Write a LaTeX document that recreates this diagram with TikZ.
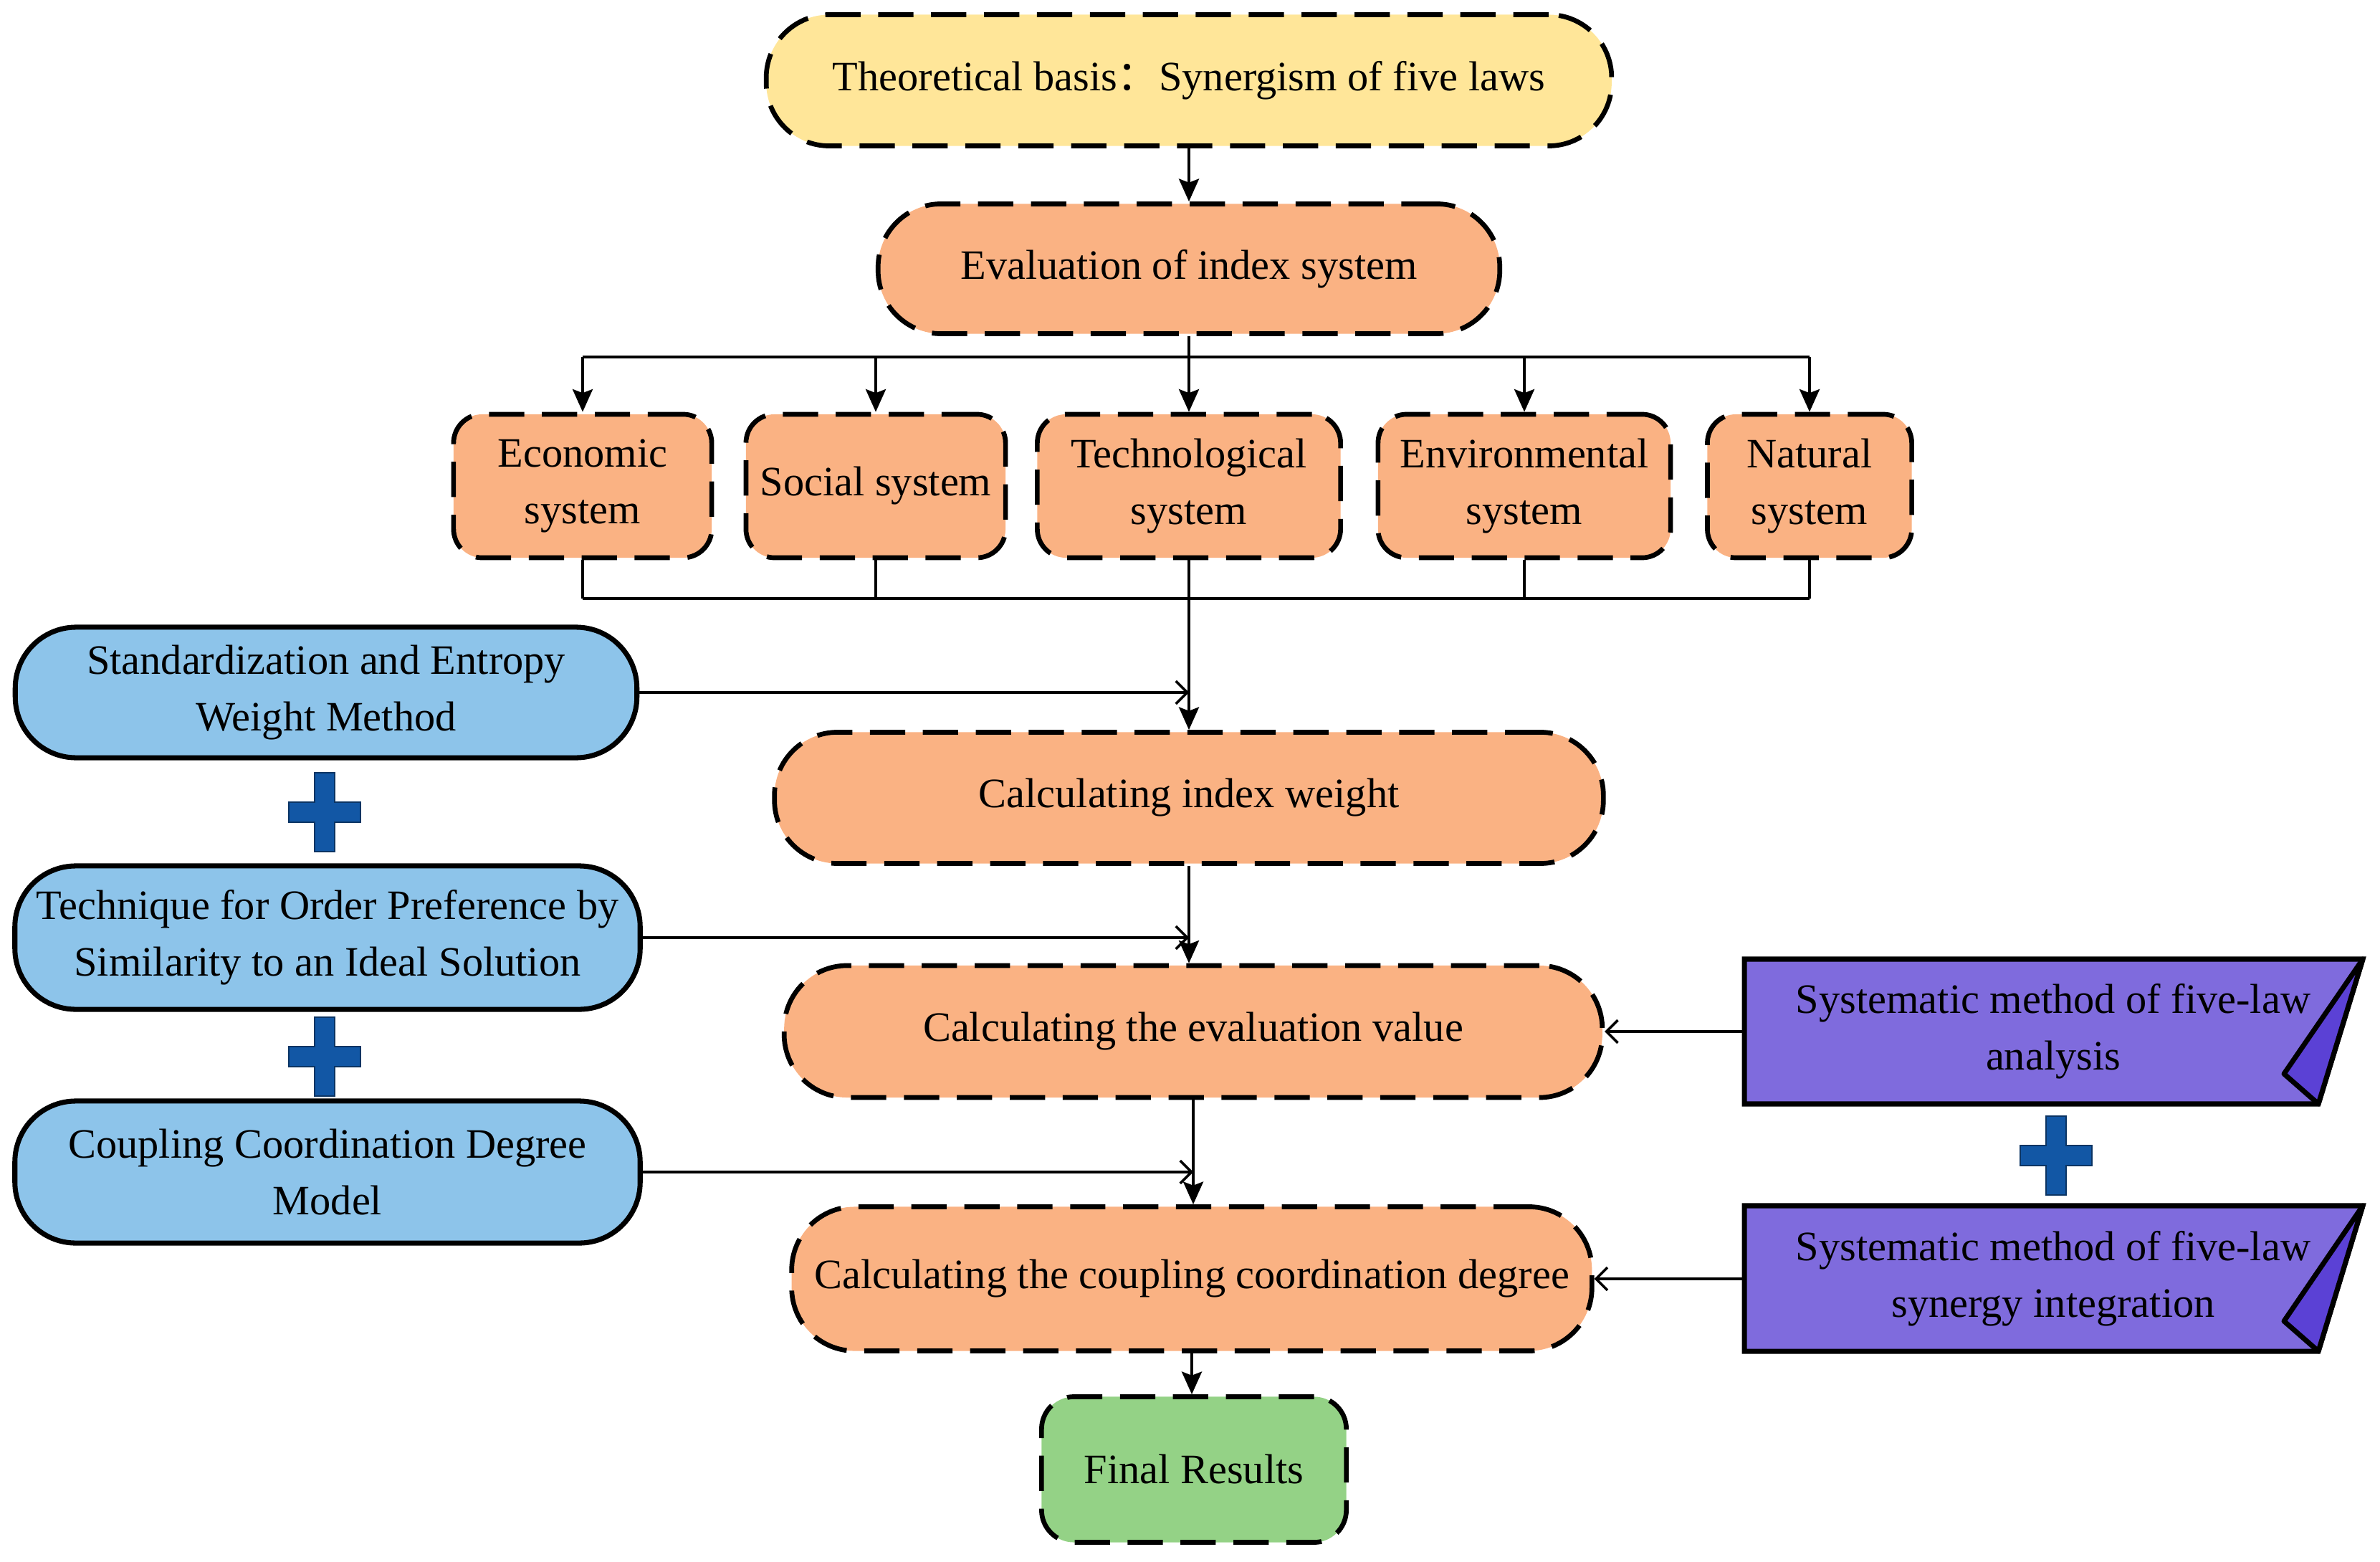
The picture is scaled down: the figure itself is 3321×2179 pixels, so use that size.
\documentclass[tikz,border=0pt]{standalone}
\usepackage{fontspec}
\setmainfont{Liberation Serif}
\newfontfamily\cjkfont{Noto Sans CJK SC}
\usetikzlibrary{arrows.meta}
\definecolor{basisyellow}{HTML}{FFE699}
\definecolor{steporange}{HTML}{FAB283}
\definecolor{methodblue}{HTML}{8DC4EA}
\definecolor{resultgreen}{HTML}{94D286}
\definecolor{lawpurple}{HTML}{7F6BDD}
\definecolor{folddark}{HTML}{5B41D5}
\definecolor{plusblue}{HTML}{1257A5}

\begin{document}
\begin{tikzpicture}[x=0.01cm,y=-0.01cm]
\tikzstyle{every node}+=[inner sep=2pt, align=center, font=\fontsize{16.6}{22.4}\selectfont]
\tikzstyle{dashbox}=[draw=black, line width=1.9pt, dash pattern=on 14pt off 7pt, rounded corners=0.88cm, fill=steporange]
\tikzstyle{sysbox}=[dashbox, rounded corners=0.4cm, minimum height=2cm]
\tikzstyle{methodbox}=[draw=black, line width=2pt, rounded corners=0.85cm, fill=methodblue]
\tikzstyle{flagshape}=[draw=black, line width=2pt, fill=lawpurple, line join=miter]
\tikzstyle{foldshape}=[draw=black, line width=2pt, fill=folddark, line join=round]
\tikzstyle{plusmark}=[draw=plusblue!60!black, line width=0.6pt, fill=plusblue]
\tikzstyle{flow}=[black, line width=1pt, -{Stealth[length=9pt,width=8pt,inset=1.5pt]}]
\tikzstyle{bus}=[black, line width=1.4pt]
\tikzstyle{feed}=[black, line width=1pt, -{Straight Barb[length=4.5pt,width=9pt]}]
\useasboundingbox (0,0) rectangle (3321,2179);
% main column
\node (basis) at (1659,112) [dashbox, fill=basisyellow, minimum width=11.79cm, minimum height=1.83cm] {Theoretical basis{\cjkfont ：}Synergism of five laws};
\node (index) at (1659,375) [dashbox, minimum width=8.67cm, minimum height=1.81cm] {Evaluation of index system};
\node (econ) at (813,678) [sysbox, minimum width=3.6cm] {Economic\\system};
\node (soc) at (1222,678) [sysbox, minimum width=3.62cm] {Social system};
\node (tech) at (1659,678) [sysbox, minimum width=4.23cm] {Technological\\system};
\node (env) at (2127,678) [sysbox, minimum width=4.08cm] {Environmental\\system};
\node (nat) at (2525,678) [sysbox, minimum width=2.85cm] {Natural\\system};
\node (weight) at (1659,1113) [dashbox, minimum width=11.56cm, minimum height=1.83cm] {Calculating index weight};
\node (evalv) at (1665,1439) [dashbox, minimum width=11.41cm, minimum height=1.84cm] {Calculating the evaluation value};
\node (couple) at (1663,1784) [dashbox, minimum width=11.16cm, minimum height=2.01cm] {Calculating the coupling coordination degree};
\node (final) at (1666,2050) [dashbox, fill=resultgreen, rounded corners=0.45cm, minimum width=4.25cm, minimum height=2.03cm] {Final Results};
% left methods
\node (entropy) at (455,966) [methodbox, minimum width=8.67cm, minimum height=1.82cm] {Standardization and Entropy\\Weight Method};
\node (topsis) at (457,1308) [methodbox, minimum width=8.72cm, minimum height=2cm] {Technique for Order Preference by\\Similarity to an Ideal Solution};
\node (ccdm) at (457,1635) [methodbox, minimum width=8.72cm, minimum height=1.98cm] {Coupling Coordination Degree\\Model};
% right methods
\draw [flagshape] (2434,1338) -- (3297,1338) -- (3235,1540) -- (2434,1540) -- cycle;
\draw [foldshape] (3297,1338) -- (3187,1498) -- (3235,1540) -- cycle;
\node (analysis) at (2865,1439) [minimum width=8.63cm, minimum height=2.02cm] {Systematic method of five-law\\analysis};
\draw [flagshape] (2434,1682) -- (3297,1682) -- (3235,1885) -- (2434,1885) -- cycle;
\draw [foldshape] (3297,1682) -- (3187,1843) -- (3235,1885) -- cycle;
\node (synergy) at (2865,1784) [minimum width=8.63cm, minimum height=2.03cm] {Systematic method of five-law\\synergy integration};
% plus signs
\draw [plusmark, shift={(453,1133)}] (-14,-55) -- (14,-55) -- (14,-14) -- (50,-14) -- (50,14) -- (14,14) -- (14,55) -- (-14,55) -- (-14,14) -- (-50,14) -- (-50,-14) -- (-14,-14) -- cycle;
\draw [plusmark, shift={(453,1474)}] (-14,-55) -- (14,-55) -- (14,-14) -- (50,-14) -- (50,14) -- (14,14) -- (14,55) -- (-14,55) -- (-14,14) -- (-50,14) -- (-50,-14) -- (-14,-14) -- cycle;
\draw [plusmark, shift={(2869,1612)}] (-14,-55) -- (14,-55) -- (14,-14) -- (50,-14) -- (50,14) -- (14,14) -- (14,55) -- (-14,55) -- (-14,14) -- (-50,14) -- (-50,-14) -- (-14,-14) -- cycle;
% connectors
\coordinate (split) at (1659,498);
\coordinate (merge) at (1659,835);
\draw [flow] (basis) -- (index);
\draw [black, line width=1pt] (index.south) -- (split);
\draw [bus] (econ |- split) -- (nat |- split);
\draw [flow] (econ |- split) -- (econ.north);
\draw [flow] (soc |- split) -- (soc.north);
\draw [flow] (tech |- split) -- (tech.north);
\draw [flow] (env |- split) -- (env.north);
\draw [flow] (nat |- split) -- (nat.north);
\draw [black, line width=1pt] (econ.south) -- (econ |- merge);
\draw [black, line width=1pt] (soc.south) -- (soc |- merge);
\draw [black, line width=1pt] (env.south) -- (env |- merge);
\draw [black, line width=1pt] (nat.south) -- (nat |- merge);
\draw [bus] (econ |- merge) -- (nat |- merge);
\draw [flow] (tech.south) -- (weight.north);
\draw [flow] (weight.south) -- (weight.south |- evalv.north);
\draw [flow] (evalv.south) -- (evalv.south |- couple.north);
\draw [flow] (couple.south) -- (couple.south |- final.north);
\draw [feed] (entropy.east) -- (tech.south |- entropy.east);
\draw [feed] (topsis.east) -- (weight.south |- topsis.east);
\draw [feed] (ccdm.east) -- (evalv.south |- ccdm.east);
\draw [feed] (analysis.west) -- (evalv.east);
\draw [feed] (synergy.west) -- (couple.east);
\end{tikzpicture}
\end{document}
